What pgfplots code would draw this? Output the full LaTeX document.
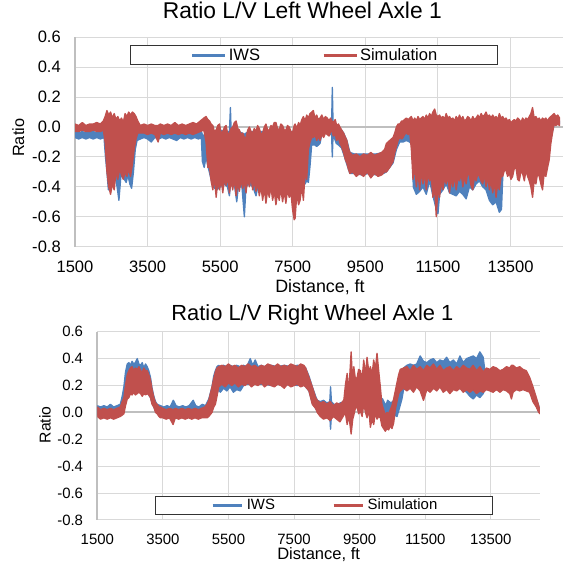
\documentclass[border=0pt]{standalone}
\usepackage{pgfplots}
\pgfplotsset{compat=1.18}
\usepackage{pgfplotstable}
\usepgfplotslibrary{fillbetween}
\usepackage{fontspec}
\setmainfont{Liberation Sans}

\definecolor{iwsblue}{HTML}{4F81BD}
\definecolor{simred}{HTML}{C0504D}
\definecolor{gridgray}{HTML}{D9D9D9}
\definecolor{axisgray}{HTML}{BFBFBF}

% envelopes of the two noisy traces (x, upper, lower)
\pgfplotstableread{
x hi lo
1500 -0.03 -0.07
1600 -0.04 -0.08
1700 -0.03 -0.07
1800 -0.04 -0.08
1900 -0.03 -0.07
2000 -0.03 -0.08
2100 -0.04 -0.07
2200 -0.03 -0.08
2300 -0.03 -0.07
2340 -0.05 -0.20
2380 -0.06 -0.30
2420 -0.08 -0.42
2460 -0.10 -0.40
2510 -0.08 -0.33
2560 -0.10 -0.38
2610 -0.12 -0.33
2660 -0.10 -0.40
2710 -0.12 -0.49
2760 -0.10 -0.34
2810 -0.12 -0.30
2860 -0.10 -0.35
2910 -0.12 -0.37
2960 -0.10 -0.32
3010 -0.08 -0.38
3060 -0.08 -0.41
3110 -0.06 -0.30
3160 -0.04 -0.15
3210 -0.03 -0.09
3300 -0.03 -0.08
3400 -0.04 -0.07
3500 -0.03 -0.08
3600 -0.04 -0.10
3700 -0.03 -0.07
3800 -0.04 -0.08
3900 -0.03 -0.07
4000 -0.04 -0.08
4100 -0.03 -0.07
4200 -0.04 -0.08
4300 -0.03 -0.09
4400 -0.04 -0.07
4500 -0.03 -0.08
4600 -0.04 -0.07
4700 -0.03 -0.08
4800 -0.04 -0.07
4900 -0.03 -0.08
4980 -0.03 -0.07
5010 -0.05 -0.23
5060 -0.06 -0.27
5110 -0.04 -0.20
5160 -0.03 -0.26
5200 -0.02 -0.30
5300 -0.03 -0.40
5400 -0.03 -0.42
5500 -0.02 -0.40
5600 -0.03 -0.38
5700 -0.03 -0.40
5755 -0.03 -0.46
5782 0.13 -0.38
5800 -0.02 -0.38
5900 -0.03 -0.40
5956 -0.03 -0.50
6000 -0.03 -0.40
6100 -0.04 -0.40
6166 -0.05 -0.60
6210 -0.04 -0.40
6300 -0.03 -0.38
6400 -0.03 -0.40
6487 -0.03 -0.46
6550 -0.03 -0.38
6650 -0.03 -0.40
6800 -0.03 -0.40
7000 -0.03 -0.40
7200 -0.03 -0.40
7400 -0.03 -0.40
7500 -0.03 -0.45
7600 -0.02 -0.45
7700 0.00 -0.40
7793 0.02 -0.36
7840 0.02 -0.38
7884 0.02 -0.36
7930 0.02 -0.37
7975 0.03 -0.26
8020 0.03 -0.12
8110 0.03 -0.12
8160 0.03 -0.13
8250 0.03 -0.11
8300 0.02 -0.05
8400 0.03 -0.04
8500 0.02 -0.05
8570 0.02 -0.05
8589 0.265 -0.20
8610 0.02 -0.05
8700 0.01 -0.11
8760 0.00 -0.12
8845 -0.02 -0.14
8900 -0.04 -0.18
8990 -0.09 -0.25
9074 -0.17 -0.31
9200 -0.18 -0.31
9400 -0.18 -0.32
9600 -0.18 -0.31
9800 -0.18 -0.32
10000 -0.17 -0.31
10080 -0.15 -0.30
10170 -0.12 -0.27
10263 -0.10 -0.24
10355 -0.06 -0.15
10446 -0.04 -0.10
10538 -0.03 -0.10
10629 -0.03 -0.09
10721 -0.03 -0.10
10790 -0.02 -0.12
10820 -0.02 -0.40
10904 0.00 -0.45
10995 0.00 -0.43
11087 0.00 -0.40
11178 0.00 -0.45
11270 0.00 -0.36
11361 0.00 -0.46
11453 0.00 -0.55
11500 0.00 -0.58
11544 0.00 -0.45
11636 0.00 -0.42
11727 0.00 -0.38
11819 0.00 -0.44
11910 0.00 -0.45
12002 0.00 -0.46
12093 0.00 -0.43
12185 0.00 -0.45
12276 0.00 -0.48
12368 0.00 -0.40
12459 0.00 -0.42
12551 0.00 -0.38
12642 0.00 -0.36
12734 0.00 -0.40
12825 0.00 -0.42
12917 0.00 -0.49
13008 0.00 -0.52
13100 0.00 -0.50
13191 0.00 -0.57
13250 0.00 -0.55
13290 0.00 -0.30
13400 0.00 -0.26
13600 0.00 -0.25
13800 0.00 -0.27
14000 0.00 -0.26
14200 0.00 -0.28
14400 0.00 -0.27
14520 0.00 -0.20
14610 0.02 -0.08
14701 0.05 0.02
14850 0.04 0.02
}\topiws

\pgfplotstableread{
x hi lo
1500 0.02 -0.03
1600 0.01 -0.03
1700 0.03 -0.02
1800 0.01 -0.03
1900 0.02 -0.03
2000 0.02 -0.02
2100 0.03 -0.03
2200 0.02 -0.03
2280 0.04 -0.02
2330 0.07 -0.10
2380 0.11 -0.30
2430 0.08 -0.40
2480 0.10 -0.45
2530 0.06 -0.38
2580 0.09 -0.42
2630 0.05 -0.30
2680 0.07 -0.35
2730 0.04 -0.28
2780 0.06 -0.32
2830 0.03 -0.35
2880 0.09 -0.30
2930 0.07 -0.33
2980 0.10 -0.28
3030 0.08 -0.33
3080 0.10 -0.25
3130 0.09 -0.15
3180 0.07 -0.08
3230 0.04 -0.04
3300 0.01 -0.04
3400 0.02 -0.04
3500 0.01 -0.05
3600 0.02 -0.04
3700 0.01 -0.05
3790 0.01 -0.10
3850 0.02 -0.04
3950 0.01 -0.05
4050 0.02 -0.04
4150 0.01 -0.05
4250 0.03 -0.04
4350 0.01 -0.05
4450 0.02 -0.04
4550 0.01 -0.05
4650 0.02 -0.04
4750 0.03 -0.05
4850 0.02 -0.04
4950 0.04 -0.03
5050 0.06 -0.02
5110 0.07 -0.10
5160 0.05 -0.27
5206 0.04 -0.27
5250 0.02 -0.36
5297 0.01 -0.42
5340 -0.03 -0.33
5389 -0.02 -0.47
5435 0.01 -0.36
5480 0.02 -0.42
5525 -0.04 -0.35
5572 -0.03 -0.44
5620 0.00 -0.34
5663 0.01 -0.39
5710 -0.05 -0.33
5755 -0.04 -0.44
5800 -0.01 -0.36
5846 0.00 -0.42
5890 0.03 -0.34
5938 0.04 -0.46
5985 -0.01 -0.37
6029 -0.02 -0.43
6075 -0.05 -0.35
6121 -0.04 -0.41
6165 -0.07 -0.36
6212 -0.07 -0.44
6260 -0.02 -0.34
6304 0.00 -0.40
6350 -0.03 -0.33
6395 -0.04 -0.42
6440 -0.01 -0.36
6487 -0.03 -0.43
6530 0.01 -0.37
6578 -0.01 -0.46
6625 -0.05 -0.40
6670 -0.04 -0.49
6715 0.00 -0.41
6761 0.02 -0.51
6808 -0.02 -0.42
6853 -0.02 -0.47
6900 0.01 -0.40
6944 0.00 -0.49
6990 0.03 -0.43
7036 0.03 -0.52
7080 -0.01 -0.44
7127 -0.02 -0.49
7170 0.02 -0.41
7219 0.01 -0.50
7265 -0.02 -0.43
7310 -0.02 -0.51
7355 0.01 -0.42
7402 0.00 -0.47
7450 -0.03 -0.44
7493 -0.04 -0.55
7539 0.01 -0.62
7564 0.02 -0.61
7610 -0.01 -0.45
7660 0.03 -0.52
7700 0.01 -0.49
7750 0.05 -0.40
7793 0.07 -0.49
7840 0.04 -0.30
7884 0.08 -0.35
7930 0.06 -0.15
7975 0.09 -0.10
8022 0.10 -0.07
8067 0.11 -0.07
8110 0.06 -0.05
8160 0.08 -0.09
8200 0.05 -0.06
8250 0.06 -0.09
8300 0.08 -0.05
8350 0.05 -0.07
8400 0.07 -0.04
8450 0.06 -0.05
8500 0.04 -0.06
8540 0.06 -0.03
8580 0.04 -0.03
8620 0.03 -0.06
8670 0.05 -0.05
8708 0.01 -0.09
8760 0.02 -0.07
8800 0.00 -0.11
8845 -0.02 -0.13
8900 -0.04 -0.17
8950 -0.07 -0.22
8990 -0.09 -0.24
9030 -0.14 -0.28
9074 -0.17 -0.31
9150 -0.19 -0.30
9250 -0.18 -0.33
9350 -0.20 -0.31
9450 -0.18 -0.33
9550 -0.19 -0.30
9650 -0.17 -0.34
9750 -0.19 -0.31
9850 -0.18 -0.33
9950 -0.17 -0.32
10030 -0.15 -0.30
10080 -0.11 -0.30
10170 -0.09 -0.27
10263 -0.07 -0.23
10310 -0.04 -0.17
10355 0.00 -0.13
10400 0.02 -0.09
10446 0.02 -0.07
10500 0.04 -0.08
10538 0.04 -0.07
10580 0.05 -0.05
10629 0.06 -0.04
10680 0.05 -0.05
10721 0.06 -0.03
10767 0.07 -0.15
10812 0.04 -0.35
10860 0.06 -0.26
10904 0.04 -0.40
10950 0.07 -0.30
10995 0.05 -0.42
11040 0.06 -0.29
11087 0.07 -0.38
11130 0.05 -0.30
11178 0.08 -0.42
11225 0.06 -0.31
11270 0.09 -0.36
11315 0.07 -0.33
11361 0.10 -0.47
11408 0.12 -0.40
11453 0.08 -0.60
11500 0.07 -0.40
11544 0.08 -0.47
11590 0.06 -0.36
11636 0.07 -0.42
11680 0.05 -0.34
11727 0.09 -0.38
11770 0.06 -0.32
11819 0.07 -0.44
11865 0.05 -0.34
11910 0.06 -0.40
11955 0.04 -0.32
12002 0.07 -0.42
12050 0.05 -0.34
12093 0.08 -0.36
12140 0.05 -0.31
12185 0.07 -0.40
12230 0.04 -0.33
12276 0.05 -0.38
12320 0.07 -0.30
12368 0.06 -0.33
12410 0.04 -0.39
12459 0.07 -0.42
12505 0.05 -0.33
12551 0.06 -0.36
12600 0.08 -0.31
12642 0.06 -0.33
12690 0.09 -0.36
12734 0.07 -0.38
12780 0.08 -0.31
12825 0.10 -0.40
12870 0.07 -0.33
12917 0.08 -0.42
12960 0.06 -0.36
13008 0.08 -0.44
13055 0.06 -0.37
13100 0.07 -0.47
13145 0.05 -0.38
13191 0.09 -0.42
13240 0.06 -0.33
13283 0.07 -0.33
13330 0.05 -0.29
13374 0.06 -0.29
13420 0.04 -0.33
13466 0.05 -0.31
13510 0.03 -0.35
13557 0.04 -0.33
13600 0.05 -0.28
13649 0.04 -0.27
13695 0.06 -0.35
13740 0.05 -0.36
13785 0.03 -0.30
13832 0.06 -0.31
13880 0.04 -0.36
13923 0.06 -0.29
13970 0.05 -0.33
14015 0.07 -0.36
14060 0.09 -0.40
14106 0.13 -0.47
14150 0.06 -0.36
14198 0.07 -0.38
14245 0.05 -0.31
14289 0.06 -0.33
14335 0.04 -0.38
14381 0.06 -0.42
14425 0.05 -0.31
14472 0.06 -0.33
14520 0.04 -0.27
14564 0.06 -0.22
14610 0.07 -0.11
14655 0.08 -0.04
14701 0.09 0.02
14750 0.07 0.01
14800 0.08 0.02
14850 0.06 0.01
}\topsim

\pgfplotstableread{
x hi lo
1500 0.05 -0.02
1600 0.04 -0.01
1700 0.05 -0.02
1800 0.04 -0.01
1900 0.06 -0.02
2000 0.04 -0.01
2100 0.05 -0.02
2200 0.06 -0.01
2260 0.12 0.00
2311 0.19 0.02
2360 0.30 0.08
2413 0.36 0.12
2463 0.37 0.14
2510 0.35 0.15
2560 0.38 0.14
2610 0.36 0.16
2660 0.37 0.15
2717 0.40 0.16
2770 0.36 0.15
2820 0.35 0.16
2870 0.37 0.14
2920 0.33 0.15
2970 0.36 0.14
3021 0.34 0.15
3070 0.31 0.13
3122 0.26 0.11
3170 0.18 0.07
3224 0.12 0.04
3275 0.08 0.01
3325 0.06 0.00
3427 0.05 -0.02
3530 0.04 -0.01
3630 0.05 -0.02
3720 0.04 -0.01
3817 0.09 -0.02
3900 0.05 -0.01
4000 0.04 -0.02
4100 0.05 -0.01
4200 0.04 -0.02
4300 0.05 -0.01
4425 0.09 -0.02
4500 0.05 -0.01
4600 0.04 -0.02
4700 0.06 -0.01
4800 0.05 -0.02
4900 0.10 -0.01
4998 0.19 0.02
5050 0.27 0.07
5100 0.31 0.10
5150 0.34 0.14
5201 0.35 0.17
5252 0.34 0.15
5350 0.35 0.18
5450 0.34 0.16
5550 0.35 0.19
5650 0.34 0.15
5750 0.35 0.17
5860 0.34 0.16
5960 0.35 0.20
6060 0.34 0.21
6164 0.40 0.21
6240 0.35 0.21
6316 0.39 0.21
6400 0.34 0.21
6500 0.35 0.21
6600 0.34 0.21
6800 0.35 0.20
7000 0.34 0.21
7200 0.35 0.20
7400 0.34 0.21
7600 0.35 0.20
7800 0.34 0.21
7854 0.33 0.19
7955 0.27 0.16
8057 0.19 0.07
8158 0.12 0.03
8208 0.09 0.01
8300 0.08 -0.01
8400 0.09 -0.02
8500 0.07 -0.01
8590 0.08 -0.02
8613 0.19 -0.125
8640 0.08 -0.02
8720 0.06 -0.02
8816 0.05 -0.03
8900 0.07 -0.04
9018 0.08 -0.01
9100 0.15 0.05
9500 0.15 0.05
9900 0.15 0.05
10200 0.10 -0.06
10300 0.05 -0.08
10354 0.09 -0.05
10450 0.07 -0.04
10550 0.09 -0.02
10640 0.08 -0.03
10700 0.12 0.02
10790 0.22 0.10
10840 0.33 0.17
10940 0.35 0.18
11042 0.36 0.19
11140 0.35 0.18
11240 0.36 0.19
11346 0.42 0.18
11447 0.38 0.17
11550 0.37 0.18
11649 0.39 0.18
11750 0.40 0.18
11852 0.37 0.18
11950 0.39 0.19
12054 0.38 0.17
12155 0.41 0.18
12250 0.37 0.17
12360 0.39 0.18
12459 0.36 0.17
12560 0.42 0.18
12660 0.37 0.17
12760 0.40 0.15
12864 0.41 0.12
12965 0.42 0.10
13066 0.40 0.13
13167 0.45 0.11
13268 0.41 0.14
13320 0.31 0.17
13600 0.31 0.17
14000 0.31 0.17
14584 0.30 0.17
14685 0.25 0.16
14786 0.18 0.09
14888 0.10 0.05
14960 0.05 0.01
15000 0.01 0.00
}\botiws

\pgfplotstableread{
x hi lo
1500 0.04 -0.03
1600 0.02 -0.05
1700 0.03 -0.04
1800 0.02 -0.05
1900 0.03 -0.04
2000 0.02 -0.05
2100 0.03 -0.04
2200 0.04 -0.03
2260 0.08 -0.02
2311 0.11 -0.01
2360 0.20 0.05
2413 0.28 0.10
2463 0.31 0.11
2510 0.33 0.14
2560 0.34 0.13
2610 0.31 0.15
2660 0.33 0.13
2717 0.32 0.14
2770 0.34 0.15
2820 0.31 0.14
2870 0.30 0.12
2920 0.33 0.14
2970 0.31 0.13
3021 0.31 0.14
3070 0.28 0.13
3122 0.24 0.11
3170 0.17 0.06
3224 0.11 0.04
3275 0.07 0.00
3325 0.06 -0.01
3380 0.04 -0.03
3427 0.04 -0.04
3500 0.03 -0.04
3600 0.02 -0.05
3700 0.03 -0.04
3812 0.02 -0.09
3880 0.03 -0.04
3980 0.02 -0.05
4080 0.03 -0.04
4180 0.02 -0.05
4280 0.03 -0.04
4380 0.02 -0.05
4480 0.03 -0.04
4580 0.02 -0.05
4680 0.03 -0.04
4780 0.04 -0.04
4846 0.06 -0.04
4900 0.09 -0.03
4998 0.19 0.00
5050 0.25 0.04
5100 0.30 0.06
5150 0.33 0.12
5201 0.34 0.19
5300 0.35 0.21
5400 0.34 0.19
5500 0.36 0.22
5600 0.34 0.20
5700 0.35 0.22
5800 0.33 0.19
5900 0.35 0.21
6000 0.34 0.20
6100 0.36 0.22
6200 0.34 0.19
6300 0.35 0.21
6400 0.33 0.20
6500 0.35 0.22
6600 0.34 0.19
6700 0.36 0.21
6800 0.35 0.20
6900 0.34 0.19
7000 0.36 0.21
7100 0.34 0.20
7200 0.35 0.18
7300 0.34 0.21
7400 0.36 0.19
7500 0.35 0.20
7600 0.34 0.21
7700 0.36 0.19
7800 0.35 0.20
7854 0.33 0.19
7955 0.26 0.16
8057 0.19 0.06
8158 0.11 0.03
8208 0.09 0.00
8300 0.07 -0.03
8400 0.08 -0.05
8500 0.06 -0.04
8600 0.08 -0.06
8700 0.05 -0.03
8800 0.07 -0.05
8900 0.06 -0.07
9018 0.09 -0.02
9069 0.21 -0.01
9120 0.29 -0.09
9170 0.15 -0.02
9241 0.45 -0.16
9290 0.20 -0.05
9322 0.34 -0.02
9370 0.25 0.03
9423 0.26 0.04
9470 0.32 -0.01
9524 0.31 0.01
9575 0.24 -0.03
9625 0.39 0.06
9680 0.28 0.00
9726 0.41 -0.04
9780 0.30 0.02
9828 0.34 -0.11
9880 0.28 -0.05
9929 0.39 -0.09
9980 0.32 0.00
10030 0.44 -0.05
10081 0.31 -0.03
10131 0.19 -0.04
10180 0.06 -0.10
10232 0.02 -0.12
10283 -0.02 -0.14
10334 0.00 -0.12
10385 -0.01 -0.13
10435 0.02 -0.10
10486 0.05 -0.12
10537 0.10 -0.08
10588 0.16 0.02
10638 0.22 0.08
10690 0.28 0.14
10740 0.32 0.16
10840 0.33 0.18
10940 0.34 0.16
11042 0.31 0.18
11140 0.35 0.15
11240 0.32 0.19
11346 0.34 0.16
11447 0.31 0.09
11550 0.35 0.17
11649 0.33 0.15
11750 0.36 0.18
11852 0.32 0.16
11950 0.35 0.19
12050 0.31 0.15
12155 0.33 0.17
12250 0.34 0.14
12360 0.31 0.17
12459 0.34 0.16
12560 0.32 0.18
12660 0.35 0.15
12760 0.33 0.17
12864 0.32 0.15
12960 0.35 0.17
13066 0.31 0.14
13170 0.34 0.16
13268 0.30 0.15
13370 0.33 0.17
13471 0.32 0.16
13570 0.34 0.15
13673 0.33 0.17
13780 0.31 0.15
13876 0.32 0.17
13980 0.34 0.16
14080 0.33 0.14
14129 0.35 0.10
14180 0.35 0.15
14280 0.33 0.17
14382 0.34 0.16
14480 0.32 0.17
14584 0.31 0.16
14685 0.26 0.15
14786 0.19 0.08
14888 0.11 0.04
14960 0.05 0.00
15000 0.01 -0.01
}\botsim

\pgfplotsset{
  lvchart/.style={
    scale only axis, anchor=south west,
    xmin=1500, xmax=15000, ymin=-0.8, ymax=0.6,
    xtick={1500,3500,5500,7500,9500,11500,13500},
    xticklabels={1500,3500,5500,7500,9500,11500,13500},
    scaled x ticks=false, scaled y ticks=false,
    ytick={-0.8,-0.6,-0.4,-0.2,0,0.2,0.4,0.6},
    yticklabels={-0.8,-0.6,-0.4,-0.2,0.0,0.2,0.4,0.6},
    axis x line*=bottom, axis y line*=left,
    x axis line style={draw=gridgray, line width=0.75pt},
    y axis line style={draw=axisgray, line width=1.5pt},
    major tick length=0pt,
    grid=major, major grid style={draw=gridgray, line width=0.75pt},
    extra y ticks={0}, extra y tick labels={},
    extra y tick style={grid=major, major grid style={draw=axisgray, line width=1.5pt}},
    xticklabel style={anchor=north, inner sep=0pt},
    yticklabel style={anchor=east, inner sep=0pt},
    xlabel={Distance, ft}, ylabel={Ratio},
    xlabel style={anchor=base, inner sep=0pt},
    ylabel style={anchor=base, inner sep=0pt},
    title style={anchor=base, inner sep=0pt},
    legend columns=2,
    legend style={draw=black!80, line width=0.75pt, inner ysep=2pt,
      nodes={inner sep=0pt}},
  },
  band/.style={fill=#1, draw=#1, line width=1pt, line join=round, forget plot},
}

\begin{document}
\begin{tikzpicture}

\begin{axis}[lvchart,
  at={(56.25pt,237.23pt)}, width=367.5pt, height=157.05pt,
  title={Ratio L/V Left Wheel Axle 1},
  title style={at={(axis description cs:0.464,1.0506)}, font=\fontsize{17.1}{20}\selectfont},
  ticklabel style={font=\fontsize{12.4}{14}\selectfont},
  xticklabel style={yshift=-10.7pt},
  yticklabel style={xshift=-10.5pt},
  xlabel style={at={(axis description cs:0.5,0)}, yshift=-34pt, font=\fontsize{13.4}{15}\selectfont},
  ylabel style={at={(axis description cs:0,0.52)}, yshift=38.25pt, font=\fontsize{12.2}{14}\selectfont},
  legend image code/.code={\draw[#1] (0pt,0pt) -- (24.75pt,0pt);},
  legend style={at={(axis description cs:0.4878,0.9138)}, anchor=center,
    inner xsep=45pt, font=\fontsize{12.4}{14}\selectfont,
    /tikz/every odd column/.append style={column sep=1.5pt},
    /tikz/every even column/.append style={column sep=46.5pt}},
]
\addlegendimage{draw=iwsblue, line width=2.25pt}
\addlegendentry{IWS}
\addlegendimage{draw=simred, line width=2.25pt}
\addlegendentry{Simulation}
\addplot[draw=none, forget plot, name path=tbh] table[x=x, y=hi] {\topiws};
\addplot[draw=none, forget plot, name path=tbl] table[x=x, y=lo] {\topiws};
\addplot[band=iwsblue] fill between[of=tbh and tbl];
\addplot[draw=none, forget plot, name path=trh] table[x=x, y=hi] {\topsim};
\addplot[draw=none, forget plot, name path=trl] table[x=x, y=lo] {\topsim};
\addplot[band=simred] fill between[of=trh and trl];
\end{axis}

\begin{axis}[lvchart,
  at={(72.98pt,32.25pt)}, width=332pt, height=141.2pt,
  title={Ratio L/V Right Wheel Axle 1},
  title style={at={(axis description cs:0.486,1.018)}, font=\fontsize{16.4}{19}\selectfont},
  ticklabel style={font=\fontsize{11.2}{13}\selectfont},
  xticklabel style={yshift=-10pt},
  yticklabel style={xshift=-10.5pt},
  xlabel style={at={(axis description cs:0.5,0)}, yshift=-30pt, font=\fontsize{12.4}{14}\selectfont},
  ylabel style={at={(axis description cs:0,0.505)}, yshift=35pt, font=\fontsize{11.8}{14}\selectfont},
  legend image code/.code={\draw[#1] (0pt,0pt) -- (22.2pt,0pt);},
  legend style={at={(axis description cs:0.5127,0.078)}, anchor=center,
    inner xsep=41.5pt, font=\fontsize{11.2}{13}\selectfont,
    /tikz/every odd column/.append style={column sep=2.25pt},
    /tikz/every even column/.append style={column sep=42.75pt}},
]
\addlegendimage{draw=iwsblue, line width=2.25pt}
\addlegendentry{IWS}
\addlegendimage{draw=simred, line width=2.25pt}
\addlegendentry{Simulation}
\addplot[draw=none, forget plot, name path=bbh] table[x=x, y=hi] {\botiws};
\addplot[draw=none, forget plot, name path=bbl] table[x=x, y=lo] {\botiws};
\addplot[band=iwsblue] fill between[of=bbh and bbl];
\addplot[draw=none, forget plot, name path=brh] table[x=x, y=hi] {\botsim};
\addplot[draw=none, forget plot, name path=brl] table[x=x, y=lo] {\botsim};
\addplot[band=simred] fill between[of=brh and brl];
\end{axis}

% page = the 562 x 563 px canvas of the reference
\pgfresetboundingbox
\useasboundingbox (0,0) rectangle (421.5pt,422.25pt);
\end{tikzpicture}
\end{document}
